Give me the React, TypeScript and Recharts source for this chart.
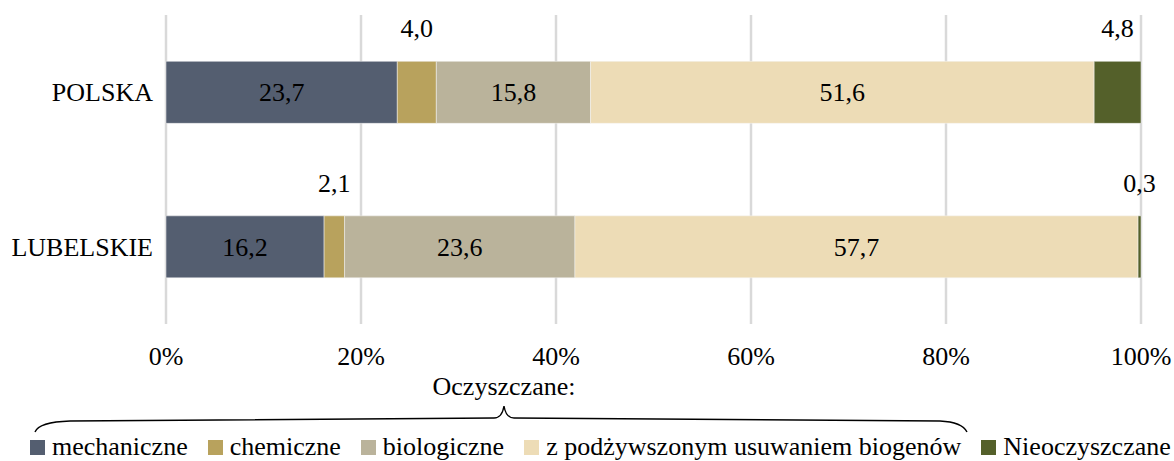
import React from 'react';
import { BarChart, Bar, XAxis, YAxis, CartesianGrid, LabelList, Legend } from 'recharts';

const categories = ['POLSKA', 'LUBELSKIE'];
const mechaniczne = [23.7, 16.2];
const chemiczne = [4.0, 2.1];
const biologiczne = [15.8, 23.6];
const podwyzszone = [51.6, 57.7];
const nieoczyszczane = [4.8, 0.3];
const xTicks = [0, 0.2, 0.4, 0.6, 0.8, 1];

const seriesNames = [
  'mechaniczne',
  'chemiczne',
  'biologiczne',
  'z podżywszonym usuwaniem biogenów',
  'Nieoczyszczane',
];
const seriesKeys = ['mech', 'chem', 'bio', 'pod', 'nie'];
const seriesColors = ['#545E70', '#B8A25D', '#BAB39B', '#EDDCB6', '#54602A'];

const data = categories.map((name, i) => ({
  name,
  mech: mechaniczne[i],
  chem: chemiczne[i],
  bio: biologiczne[i],
  pod: podwyzszone[i],
  nie: nieoczyszczane[i],
}));

const FONT = '"Liberation Serif", "Times New Roman", serif';
const FS = 26;

const fmt = (v: number) => v.toFixed(1).replace('.', ',');

const renderLabel = (props: any) => {
  const { x, y, width, height, value } = props;
  const v = Number(value);
  const cx = Number(x) + Number(width) / 2;
  const small = v < 5;
  const cy = small ? Number(y) - 33 : Number(y) + Number(height) / 2;
  return (
    <text
      x={cx}
      y={cy}
      dy="0.35em"
      textAnchor="middle"
      fontFamily={FONT}
      fontSize={FS}
      fill="#000"
    >
      {fmt(v)}
    </text>
  );
};

const XTick = (props: any) => {
  const { x, y, payload } = props;
  return (
    <text x={x} y={Number(y) + 41} textAnchor="middle" fontFamily={FONT} fontSize={FS} fill="#000">
      {Math.round(payload.value * 100) + '%'}
    </text>
  );
};

const YTick = (props: any) => {
  const { y, payload } = props;
  return (
    <text x={153} y={y} dy="0.35em" textAnchor="end" fontFamily={FONT} fontSize={FS} fill="#000">
      {payload.value}
    </text>
  );
};

const LegendContent = () => (
  <div
    style={{
      display: 'flex',
      flexDirection: 'row',
      alignItems: 'center',
      justifyContent: 'flex-start',
      paddingLeft: 30,
      paddingTop: 8,
      height: 28,
      fontFamily: FONT,
      fontSize: FS,
      color: '#000',
      whiteSpace: 'nowrap',
      lineHeight: '30px',
    }}
  >
    {seriesNames.map((n, i) => (
      <div key={n} style={{ display: 'flex', alignItems: 'center', marginRight: i < seriesNames.length - 1 ? 20 : 0 }}>
        <span style={{ display: 'inline-block', width: 15, height: 15, background: seriesColors[i], marginRight: 7 }} />
        <span>{n}</span>
      </div>
    ))}
  </div>
);

export default function App() {
  return (
    <div style={{ position: 'absolute', left: 0, top: 0, width: 1174, height: 461, background: '#fff' }}>
      <BarChart
        width={1174}
        height={461}
        data={data}
        layout="vertical"
        stackOffset="expand"
        barCategoryGap="30%"
        margin={{ top: 15, right: 33, bottom: 0, left: 0 }}
      >
        <CartesianGrid horizontal={false} stroke="#D9D9D9" strokeWidth={2.5} />
        <XAxis
          type="number"
          domain={[0, 1]}
          ticks={xTicks}
          axisLine={false}
          tickLine={false}
          tickSize={0}
          tickMargin={0}
          height={101}
          tick={<XTick />}
          interval={0}
        />
        <YAxis
          type="category"
          dataKey="name"
          width={166}
          axisLine={false}
          tickLine={false}
          tick={<YTick />}
        />
        <Legend
          verticalAlign="bottom"
          align="left"
          content={<LegendContent />}
          wrapperStyle={{ left: 0, bottom: 0, width: 1174, height: 36 }}
        />
        {seriesKeys.map((k, i) => (
          <Bar
            key={k}
            dataKey={k}
            name={seriesNames[i]}
            stackId="a"
            fill={seriesColors[i]}
            stroke="#F4F4F4"
            strokeWidth={0.5}
            isAnimationActive={false}
          >
            <LabelList dataKey={k} content={renderLabel} />
          </Bar>
        ))}
      </BarChart>
      <svg
        width={1174}
        height={461}
        style={{ position: 'absolute', left: 0, top: 0, pointerEvents: 'none' }}
      >
        <text x={504} y={395} textAnchor="middle" fontFamily={FONT} fontSize={FS} fill="#000">
          Oczyszczane:
        </text>
        <path
          d="M35,432 Q39,422 70,421 L494,418 Q502,418 504,406 Q506,418 514,418 L940,421 Q962,422 967,432"
          fill="none"
          stroke="#000"
          strokeWidth={1.4}
        />
      </svg>
    </div>
  );
}
